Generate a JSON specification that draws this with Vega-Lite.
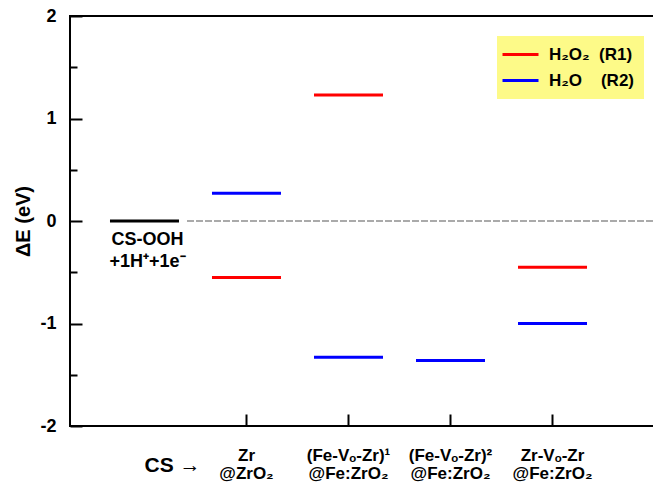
{
  "$schema": "https://vega.github.io/schema/vega-lite/v6.json",
  "width": 600,
  "height": 410,
  "autosize": {"type": "none"},
  "padding": {"left": 70, "top": 16, "right": 0, "bottom": 61},
  "background": "white",
  "config": {
    "font": "Liberation Sans",
    "view": {"stroke": "black", "strokeWidth": 2}
  },
  "data": {
    "values": [
      {"cat": "CS-OOH", "dE": 0, "series": "ref", "note": "CS-OOH\n+1H⁺+1e⁻"},
      {"cat": "Zr|@ZrO₂", "dE": 0.27, "series": "H₂O\u00a0\u00a0\u00a0\u00a0(R2)"},
      {"cat": "Zr|@ZrO₂", "dE": -0.55, "series": "H₂O₂\u00a0\u00a0(R1)"},
      {"cat": "(Fe-Vₒ-Zr)¹|@Fe:ZrO₂", "dE": 1.23, "series": "H₂O₂\u00a0\u00a0(R1)"},
      {"cat": "(Fe-Vₒ-Zr)¹|@Fe:ZrO₂", "dE": -1.33, "series": "H₂O\u00a0\u00a0\u00a0\u00a0(R2)"},
      {"cat": "(Fe-Vₒ-Zr)²|@Fe:ZrO₂", "dE": -1.36, "series": "H₂O\u00a0\u00a0\u00a0\u00a0(R2)"},
      {"cat": "Zr-Vₒ-Zr|@Fe:ZrO₂", "dE": -0.45, "series": "H₂O₂\u00a0\u00a0(R1)"},
      {"cat": "Zr-Vₒ-Zr|@Fe:ZrO₂", "dE": -1.0, "series": "H₂O\u00a0\u00a0\u00a0\u00a0(R2)"}
    ]
  },
  "layer": [
    {
      "mark": {"type": "rule", "color": "#aaaaaa", "strokeWidth": 2, "strokeDash": [6, 3]},
      "encoding": {
        "y": {"datum": 0, "type": "quantitative"},
        "x": {"datum": "CS-OOH", "type": "nominal", "bandPosition": 0.92},
        "x2": {"value": "width"}
      }
    },
    {
      "mark": {"type": "tick", "size": 69, "thickness": 3, "opacity": 1},
      "encoding": {
        "x": {
          "field": "cat",
          "type": "nominal",
          "sort": null,
          "scale": {
            "type": "band",
            "domain": ["CS-OOH", "Zr|@ZrO₂", "(Fe-Vₒ-Zr)¹|@Fe:ZrO₂", "(Fe-Vₒ-Zr)²|@Fe:ZrO₂", "Zr-Vₒ-Zr|@Fe:ZrO₂"],
            "paddingInner": 0,
            "paddingOuter": 0.441,
            "align": 0.261
          },
          "axis": {
            "title": null,
            "domain": false,
            "grid": false,
            "tickSize": -12,
            "tickWidth": 2,
            "tickColor": "black",
            "tickOpacity": {"condition": {"test": "datum.value == 'CS-OOH'", "value": 0}, "value": 1},
            "labelAngle": 0,
            "labelColor": "black",
            "labelFontWeight": "bold",
            "labelFontSize": {"condition": {"test": "datum.value == 'CS-OOH'", "value": 21}, "value": 17},
            "labelBaseline": {"condition": {"test": "datum.value == 'CS-OOH'", "value": "middle"}, "value": "top"},
            "labelAlign": {"condition": {"test": "datum.value == 'CS-OOH'", "value": "left"}, "value": "center"},
            "labelPadding": {"condition": {"test": "datum.value == 'CS-OOH'", "value": 51}, "value": 33},
            "labelLineHeight": 18,
            "labelExpr": "datum.value == 'CS-OOH' ? 'CS →' : split(datum.value, '|')"
          }
        },
        "y": {
          "field": "dE",
          "type": "quantitative",
          "scale": {"domain": [-2, 2], "nice": false, "zero": false},
          "axis": {
            "title": "ΔE (eV)",
            "titleFontSize": 20,
            "titleFontWeight": "bold",
            "titleColor": "black",
            "titlePadding": 6,
            "values": [-2, -1.5, -1, -0.5, 0, 0.5, 1, 1.5, 2],
            "labelExpr": "datum.value % 1 == 0 ? '' + datum.value : ''",
            "labelFontSize": 18,
            "labelFontWeight": "bold",
            "labelColor": "black",
            "labelPadding": 26,
            "domain": false,
            "grid": false,
            "tickSize": {"condition": {"test": "datum.value % 1 == 0", "value": -12}, "value": -7},
            "tickWidth": 2,
            "tickColor": "black"
          }
        },
        "color": {
          "field": "series",
          "type": "nominal",
          "scale": {"domain": ["H₂O₂\u00a0\u00a0(R1)", "H₂O\u00a0\u00a0\u00a0\u00a0(R2)", "ref"], "range": ["#ff0000", "#0000ff", "#000000"]},
          "legend": {
            "title": null,
            "orient": "none",
            "legendX": 427,
            "legendY": 20,
            "values": ["H₂O₂\u00a0\u00a0(R1)", "H₂O\u00a0\u00a0\u00a0\u00a0(R2)"],
            "fillColor": "#fdfa88",
            "padding": 10,
            "symbolType": "M-3.6,-0.3H3.6V0.3H-3.6Z",
            "symbolSize": 100,
            "symbolOffset": 5,
            "symbolOpacity": 1,
            "labelFontSize": 17,
            "labelFontWeight": "bold",
            "labelColor": "black",
            "labelOffset": 20,
            "rowPadding": 8
          }
        }
      }
    },
    {
      "transform": [{"filter": "datum.cat == 'CS-OOH'"}],
      "mark": {"type": "text", "fontSize": 18, "fontWeight": "bold", "baseline": "top", "align": "center", "dy": 10, "dx": 3, "lineBreak": "\n", "lineHeight": 22, "color": "black"},
      "encoding": {
        "x": {"field": "cat", "type": "nominal"},
        "y": {"datum": 0, "type": "quantitative"},
        "text": {"field": "note"}
      }
    }
  ]
}
